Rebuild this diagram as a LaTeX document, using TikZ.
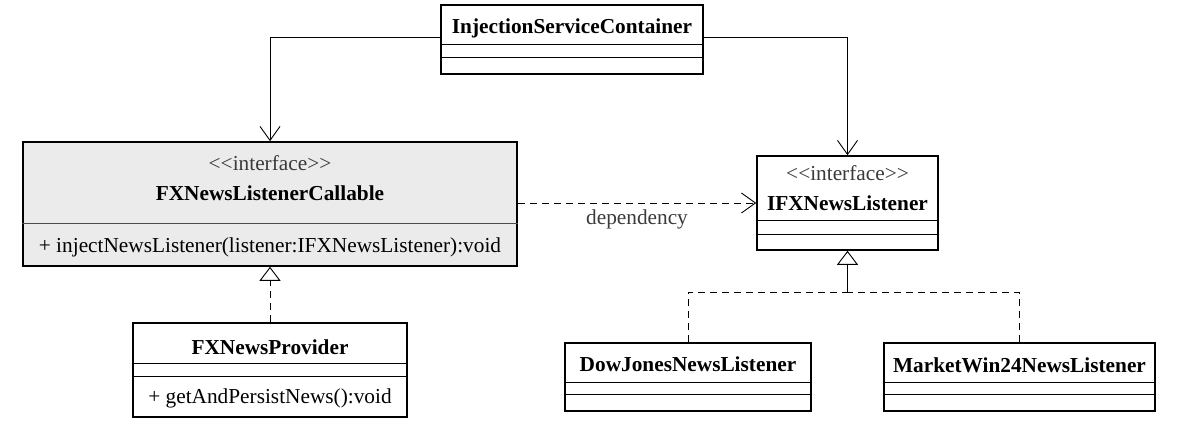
\documentclass[tikz,border=0pt]{standalone}
\usepackage{fontspec}
\setmainfont{Liberation Serif}
\usetikzlibrary{arrows.meta}
\definecolor{ifacegray}{HTML}{EBEBEB}
\definecolor{stereo}{HTML}{3A3A3A}

\begin{document}
\begin{tikzpicture}[x=1pt, y=-1pt,
    classbox/.style={draw, line width=1.6pt, inner sep=0pt, fill=white},
    classname/.style={anchor=base, inner sep=0pt, font=\fontsize{21.3}{25}\selectfont\bfseries},
    member/.style={anchor=base, inner sep=0pt, font=\fontsize{21.3}{25}\selectfont},
    stereotype/.style={member, text=stereo},
    sepline/.style={line width=0.8pt},
    assoc/.style={line width=0.9pt, -{Straight Barb[length=14pt, width=20pt, line width=0.9pt]}},
    realize/.style={line width=0.9pt, dash pattern=on 7pt off 5pt},
    impl/.style={line width=0.9pt, -{Triangle[open, length=14pt, width=21pt, line width=0.9pt, fill=white]}}]
  \useasboundingbox (0,0) rectangle (1181,423);

  % container
  \node[classbox, minimum width=262, minimum height=69] (isc) at (572,39.5) {};
  \node[classname] (isc-name) at (572,33.5) {InjectionServiceContainer};
  \draw[sepline] ([yshift=-40.5]isc.north west) -- ([yshift=-40.5]isc.north east);
  \draw[sepline] ([yshift=-53]isc.north west) -- ([yshift=-53]isc.north east);

  % callable interface
  \node[classbox, fill=ifacegray, minimum width=494, minimum height=124] (fxc) at (270,204) {};
  \node[stereotype] (fxc-stereo) at (270,170) {<{}<interface>{}>};
  \node[classname] (fxc-name) at (270,200.5) {FXNewsListenerCallable};
  \draw[sepline, draw=black!70, line width=1.2pt] ([yshift=-82]fxc.north west) -- ([yshift=-82]fxc.north east);
  \node[member] (fxc-op) at (270,252) {+ injectNewsListener(listener:IFXNewsListener):void};

  % listener interface
  \node[classbox, minimum width=181, minimum height=94] (ifx) at (847.5,203) {};
  \node[stereotype] (ifx-stereo) at (847.5,180) {<{}<interface>{}>};
  \node[classname] (ifx-name) at (847.5,210) {IFXNewsListener};
  \draw[sepline] ([yshift=-65]ifx.north west) -- ([yshift=-65]ifx.north east);
  \draw[sepline] ([yshift=-79]ifx.north west) -- ([yshift=-79]ifx.north east);

  % provider
  \node[classbox, minimum width=274, minimum height=94] (fxp) at (270,370) {};
  \node[classname] (fxp-name) at (270,354) {FXNewsProvider};
  \draw[sepline] ([yshift=-41.5]fxp.north west) -- ([yshift=-41.5]fxp.north east);
  \draw[sepline] ([yshift=-54]fxp.north west) -- ([yshift=-54]fxp.north east);
  \node[member] (fxp-op) at (270,403.5) {+ getAndPersistNews():void};

  % listeners
  \node[classbox, minimum width=246, minimum height=68] (dj) at (688,377) {};
  \node[classname] (dj-name) at (688,371.5) {DowJonesNewsListener};
  \draw[sepline] ([yshift=-40]dj.north west) -- ([yshift=-40]dj.north east);
  \draw[sepline] ([yshift=-52]dj.north west) -- ([yshift=-52]dj.north east);

  \node[classbox, minimum width=271, minimum height=68] (mw) at (1019.5,377) {};
  \node[classname] (mw-name) at (1019.5,372) {MarketWin24NewsListener};
  \draw[sepline] ([yshift=-40]mw.north west) -- ([yshift=-40]mw.north east);
  \draw[sepline] ([yshift=-52]mw.north west) -- ([yshift=-52]mw.north east);

  % connectors
  \draw[assoc] ([yshift=2]isc.west) -| (fxc.north);
  \draw[assoc] ([yshift=2]isc.east) -| (ifx.north);
  \draw[realize, -{Straight Barb[length=14pt, width=20pt, line width=0.9pt]}] (fxc.east |- ifx.west) -- (ifx.west)
    node[midway, member, text=stereo, yshift=-21] (dep) {dependency};
  \draw[realize, impl] (fxp.north) -- (fxc.south);
  \coordinate (join) at (847.5,292.3);
  \draw[realize] (dj.north) |- (join);
  \draw[realize] (mw.north) |- (join);
  \draw[impl] (join) -- (ifx.south);
\end{tikzpicture}
\end{document}
